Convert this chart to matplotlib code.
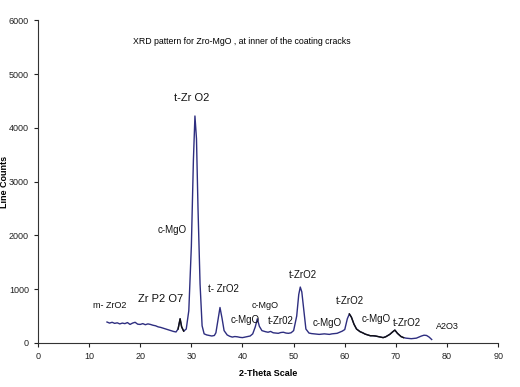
import matplotlib
matplotlib.use("Agg")
import matplotlib.pyplot as plt
import numpy as np

plt.rcParams['font.family'] = ['Liberation Sans', 'DejaVu Sans']

two_theta = [13.5, 14, 14.5, 15, 15.5, 16, 16.5, 17, 17.5, 18, 18.5, 19, 19.5, 20, 20.5, 21, 21.5, 22,
             22.5, 23, 23.5, 24, 24.5, 25, 25.5, 26, 26.5, 27, 27.4, 27.8, 28.1, 28.5, 29, 29.5, 30,
             30.4, 30.7, 31.0, 31.3, 31.7, 32.1, 32.5, 33, 33.5, 34, 34.5, 34.8, 35.2, 35.6, 36,
             36.4, 37, 37.5, 38, 38.5, 39, 39.5, 40, 40.5, 41, 41.5, 42, 42.5, 42.9, 43.3, 43.8,
             44.5, 45, 45.5, 46, 46.5, 47, 47.5, 48, 48.5, 49, 49.5, 50, 50.6, 51.0, 51.3, 51.6,
             52, 52.4, 53, 53.5, 54, 54.5, 55, 55.5, 56, 56.5, 57, 57.5, 58, 58.5, 59, 59.5, 60,
             60.5, 60.9, 61.3, 61.8, 62.3, 63, 63.5, 64, 64.5, 65, 65.5, 66, 66.5, 67, 67.5, 68,
             68.8, 69.4, 69.8, 70.3, 71, 71.5, 72, 72.5, 73, 73.5, 74, 74.5, 75, 75.5, 76, 76.5, 77]
counts = [390, 370, 385, 365, 375, 355, 370, 360, 380, 345, 370, 385, 350, 345, 360, 340, 355, 345,
          330, 320, 300, 290, 275, 260, 245, 230, 215, 205, 260, 450, 300, 220, 260, 600, 1800,
          3400, 4220, 3800, 2500, 1100, 320, 170, 150, 140, 130, 140, 190, 420, 660, 460,
          230, 150, 125, 110, 120, 115, 105, 100, 110, 120, 130, 170, 300, 450, 310, 230,
          210, 200, 215, 190, 185, 180, 195, 200, 185, 180, 190, 230, 500, 900, 1040, 950,
          600, 260, 185, 175, 170, 165, 160, 165, 170, 165, 160, 170, 175, 180, 200, 220, 250,
          450, 540, 480, 350, 260, 210, 190, 165, 150, 135, 135, 130, 120, 110, 100, 115,
          160, 210, 240, 180, 120, 100, 90, 85, 80, 85, 90, 110, 130, 145, 140, 110, 65]

labels = ["t-Zr O2", "c-MgO", "Zr P2 O7", "m- ZrO2", "t- ZrO2", "c-MgO", "c-MgO", "t-Zr02",
          "t-ZrO2", "c-MgO", "t-ZrO2", "c-MgO", "t-ZrO2", "A2O3"]
label_x = [30.1, 26.2, 23.9, 14.0, 36.2, 40.6, 44.4, 47.4, 51.8, 56.6, 61.0, 66.1, 72.2, 80.0]
label_y = [4550, 2100, 820, 700, 1000, 420, 700, 410, 1270, 370, 780, 450, 370, 300]
label_size = [8, 7, 8, 6.5, 7, 7, 6.5, 7, 7, 7, 7, 7, 7, 6.5]

title_text = "XRD pattern for Zro-MgO , at inner of the coating cracks"

fig = plt.figure(figsize=(5.2, 3.87), dpi=100)
ax = fig.add_axes([0.073, 0.1137, 0.885, 0.834])

x = np.array(two_theta)
y = np.array(counts)
ax.plot(x, y, color='#2e2e80', lw=1.0)
mask = (x >= 60.9) & (x <= 71.5)
ax.plot(x[mask], y[mask], color='#111111', lw=1.0)
mask2 = (x >= 27.4) & (x <= 28.5)
ax.plot(x[mask2], y[mask2], color='#111111', lw=1.0)

for t, lx, ly, s in zip(labels, label_x, label_y, label_size):
    ax.text(lx, ly, t, ha='center', va='center', fontsize=s, color='#111111')

ax.text(39.9, 5600, title_text, ha='center', va='center', fontsize=6.3, color='black')

ax.set_xlim(0, 90)
ax.set_ylim(0, 6000)
ax.set_xticks(np.arange(0, 91, 10))
ax.set_yticks(np.arange(0, 6001, 1000))
ax.tick_params(labelsize=6.5, length=3, width=0.8, colors='#222222')
for side in ['top', 'right']:
    ax.spines[side].set_visible(False)
for side in ['left', 'bottom']:
    ax.spines[side].set_color('#333333')
    ax.spines[side].set_linewidth(0.8)
ax.set_xlabel("2-Theta Scale", fontsize=6.5, fontweight='bold', labelpad=6)
ax.set_ylabel("Line Counts", fontsize=6.5, fontweight='bold')
ax.yaxis.set_label_coords(-0.062, 0.5)

fig.savefig("out.png", dpi=100)
